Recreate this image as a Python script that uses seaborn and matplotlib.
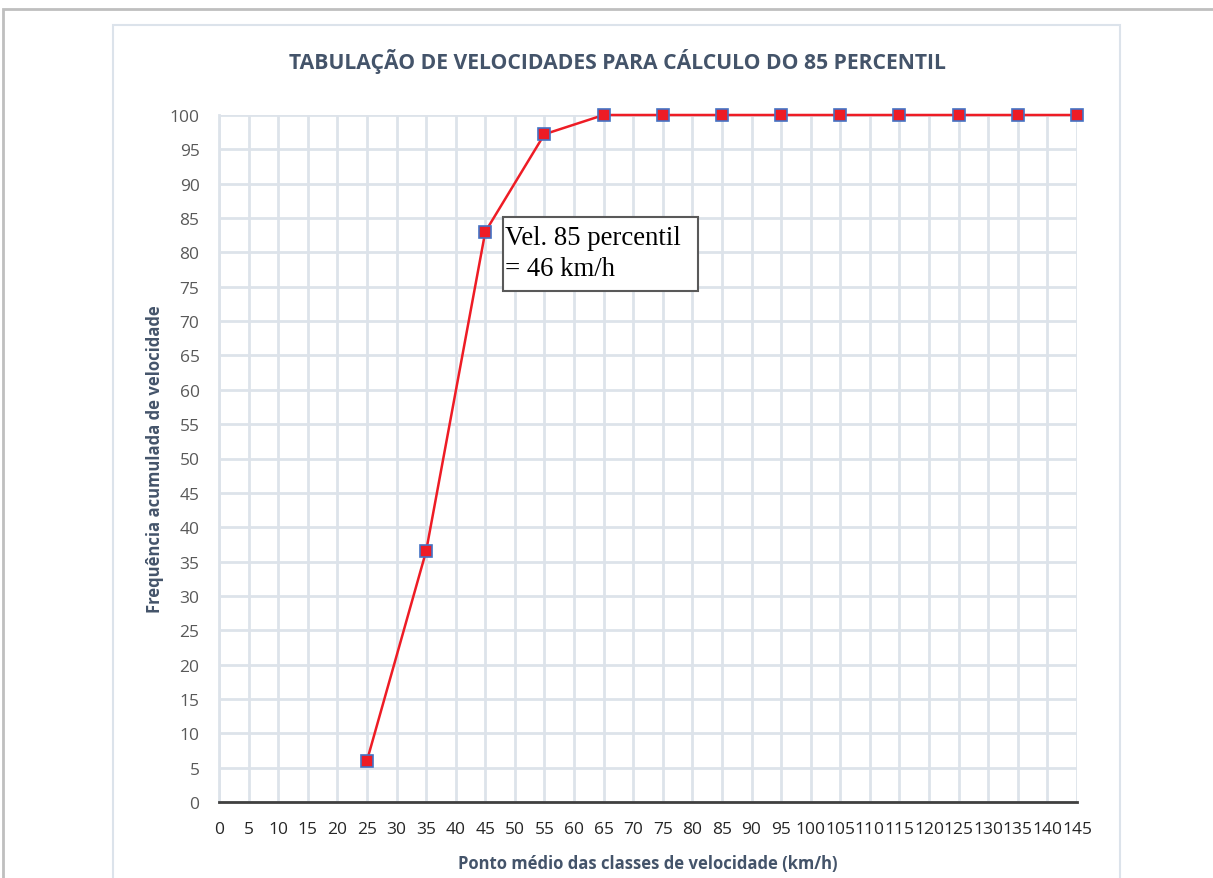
import matplotlib
matplotlib.use("Agg")
import matplotlib.pyplot as plt
import seaborn as sns
import pandas as pd
import numpy as np
from matplotlib.patches import Rectangle

speeds = [25, 35, 45, 55, 65, 75, 85, 95, 105, 115, 125, 135, 145]
cum_freq = [6.0, 36.5, 83.0, 97.2, 100, 100, 100, 100, 100, 100, 100, 100, 100]
x_ticks = list(range(0, 150, 5))
y_ticks = list(range(0, 105, 5))
title = "TABULAÇÃO DE VELOCIDADES PARA CÁLCULO DO 85 PERCENTIL"
xlabel = "Ponto médio das classes de velocidade (km/h)"
ylabel = "Frequência acumulada de velocidade"
note = "Vel. 85 percentil\n= 46 km/h"

df = pd.DataFrame({"v": speeds, "f": cum_freq})

sns.set_theme(style="white")
plt.rcParams["font.family"] = ["Open Sans", "DejaVu Sans"]

W, H = 1213, 879
fig = plt.figure(figsize=(W / 100, H / 100), dpi=100)
fig.patch.set_facecolor("white")

# outer frames
fig.add_artist(Rectangle((3 / W, -0.1), 1.2, (H - 10) / H + 0.1, transform=fig.transFigure,
                         fill=False, edgecolor="#BFBFBF", linewidth=2))
fig.add_artist(Rectangle((113 / W, -0.1), (1120 - 113) / W, (H - 26) / H + 0.1, transform=fig.transFigure,
                         fill=False, edgecolor="#DCE3EB", linewidth=1.5))

ax = fig.add_axes([219 / W, 1 - 803 / H, (1077 - 219) / W, (803 - 116) / H])
ax.set_xlim(0, 145)
ax.set_ylim(0, 100)
ax.set_xticks(x_ticks)
ax.set_yticks(y_ticks)
ax.grid(True, color="#DDE3EA", linewidth=2)
ax.set_axisbelow(True)

sns.lineplot(data=df, x="v", y="f", ax=ax, color="#EE1C25", linewidth=1.8,
             marker="s", markersize=9, markerfacecolor="#EE1C25",
             markeredgecolor="#4472C4", markeredgewidth=1.2, clip_on=False, zorder=5)

for s in ["top", "right"]:
    ax.spines[s].set_visible(False)
ax.spines["left"].set_color("#DDE3EA")
ax.spines["left"].set_linewidth(2)
ax.spines["bottom"].set_color("#404040")
ax.spines["bottom"].set_linewidth(2)

ax.tick_params(axis="both", length=0, labelsize=12.5, colors="#595959")
ax.tick_params(axis="x", pad=14, labelcolor="#262626")
ax.tick_params(axis="y", pad=14, labelcolor="#595959")

ax.set_xlabel(xlabel, fontsize=12, fontweight="bold", color="#44546A", labelpad=12)
ax.set_ylabel(ylabel, fontsize=12, fontweight="bold", color="#44546A", labelpad=4)

fig.text(617 / W, 1 - 62 / H, title, ha="center", va="center", fontsize=15.2,
         fontweight="bold", color="#44546A", fontstretch="condensed")

# annotation box
fig.add_artist(Rectangle((503 / W, 1 - 292 / H), (698 - 503) / W, (292 - 218) / H,
                         transform=fig.transFigure, facecolor="white",
                         edgecolor="#595959", linewidth=1.5, zorder=6))
fig.text(505 / W, 1 - 254 / H, note, family=["Liberation Serif", "DejaVu Serif"], fontsize=19.3,
         color="black", ha="left", va="center", linespacing=1.3, zorder=7)

fig.savefig("out.png", dpi=100)
